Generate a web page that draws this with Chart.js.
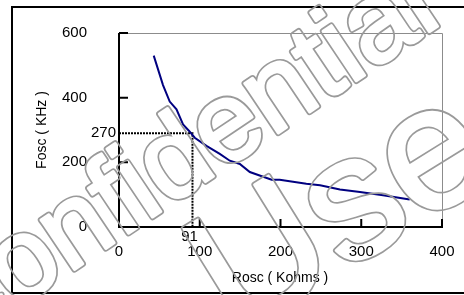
<!DOCTYPE html>
<html>
<head>
<meta charset="utf-8">
<script src="https://cdn.jsdelivr.net/npm/chart.js@4.4.1/dist/chart.umd.min.js"></script>
<style>
    html, body { margin: 0; padding: 0; background: #fff; }
    #wrap { width: 464px; height: 295px; }
</style>
</head>
<body>
<div id="wrap"><canvas id="oscChart"></canvas></div>
<script>
    const roscValues = [43, 54.5, 62.8, 71.2, 79.3, 86.8, 93.8, 108.3, 124.8, 137.2, 149.6, 162, 189, 199, 232, 249, 273.6, 298.4, 327, 360];
    const foscValues = [530, 439, 388, 364, 317, 297, 276, 251, 226, 205, 195, 170, 146, 146, 134, 129, 116, 108.5, 98.5, 85];
    const xTicks = [0, 100, 200, 300, 400];
    const yTicks = [0, 200, 400, 600];
    const markerRosc = 91;
    const markerFosc = 290;
    const markerRoscLabel = '91';
    const markerFoscLabel = '270';
    const xTitle = 'Rosc ( Kohms )';
    const yTitle = 'Fosc ( KHz )';
    const watermarkLines = ['Confidential', 'Use'];

    const FONT = '"Liberation Sans", Arial, sans-serif';

    const points = roscValues.map((x, i) => ({ x: x, y: foscValues[i] }));

    // outlined watermark text, drawn a little fatter than the glyph
    function drawOutlined(off, text, font, tx, ty, deg) {
        const expand = 1.5, band = 1.7;
        off.save();
        off.font = font;
        off.lineJoin = 'round';
        off.translate(tx, ty);
        off.rotate(deg * Math.PI / 180);
        off.fillStyle = off.strokeStyle = '#9a9a9a';
        off.lineWidth = 2 * (expand + band);
        off.fillText(text, 0, 0);
        off.strokeText(text, 0, 0);
        off.globalCompositeOperation = 'destination-out';
        off.lineWidth = 2 * expand;
        off.fillText(text, 0, 0);
        off.strokeText(text, 0, 0);
        off.restore();
    }

    const decorPlugin = {
        id: 'decor',
        beforeDraw(chart) {
            const ctx = chart.ctx;
            ctx.save();
            ctx.strokeStyle = '#000';
            ctx.lineWidth = 2;
            ctx.strokeRect(12, 7, 470, 286);
            ctx.restore();
        },
        beforeDatasetsDraw(chart) {
            const ctx = chart.ctx;
            const a = chart.chartArea;
            const x = chart.scales.x, y = chart.scales.y;
            ctx.save();
            // light frame top/right
            ctx.strokeStyle = '#8c8c8c';
            ctx.lineWidth = 1;
            ctx.beginPath();
            ctx.moveTo(a.left, a.top + 0.5);
            ctx.lineTo(a.right + 0.5, a.top + 0.5);
            ctx.lineTo(a.right + 0.5, a.bottom);
            ctx.stroke();

            // marker lines
            const mx = x.getPixelForValue(markerRosc);
            const my = y.getPixelForValue(markerFosc);
            ctx.strokeStyle = '#000';
            ctx.lineWidth = 2;
            ctx.setLineDash([2, 1]);
            ctx.beginPath();
            ctx.moveTo(a.left, my);
            ctx.lineTo(mx, my);
            ctx.lineTo(mx, a.bottom);
            ctx.stroke();
            ctx.setLineDash([]);

            // axes
            ctx.lineWidth = 2;
            ctx.beginPath();
            ctx.moveTo(a.left, a.top);
            ctx.lineTo(a.left, a.bottom);
            ctx.lineTo(a.right + 1, a.bottom);
            ctx.stroke();

            // inward ticks
            ctx.beginPath();
            yTicks.forEach(v => {
                if (v === 0) return;
                const py = y.getPixelForValue(v);
                ctx.moveTo(a.left, py);
                ctx.lineTo(a.left + 9, py);
            });
            xTicks.forEach(v => {
                if (v === 0) return;
                const px = x.getPixelForValue(v);
                ctx.moveTo(px, a.bottom);
                ctx.lineTo(px, a.bottom - 8);
            });
            ctx.stroke();

            // marker labels
            ctx.fillStyle = '#000';
            ctx.font = '15px ' + FONT;
            ctx.textAlign = 'right';
            ctx.textBaseline = 'middle';
            ctx.fillText(markerFoscLabel, a.left - 3, my);
            ctx.textAlign = 'center';
            ctx.fillText(markerRoscLabel, mx - 3, a.bottom + 10);

            // axis titles
            ctx.font = '14px ' + FONT;
            ctx.fillText(xTitle, 280, 278);
            ctx.translate(42, 130);
            ctx.rotate(-Math.PI / 2);
            ctx.fillText(yTitle, 0, 0);
            ctx.restore();
        },
        afterDraw(chart) {
            const c = document.createElement('canvas');
            c.width = chart.width;
            c.height = chart.height;
            const off = c.getContext('2d');
            off.textAlign = 'left';
            off.textBaseline = 'alphabetic';
            drawOutlined(off, watermarkLines[0], '113px ' + FONT, -52, 354, -33.8);
            drawOutlined(off, watermarkLines[1], '175px ' + FONT, 236, 338, -31.8);
            chart.ctx.drawImage(c, 0, 0, chart.width, chart.height);
        }
    };

    const ctx = document.getElementById('oscChart').getContext('2d');
    new Chart(ctx, {
        type: 'scatter',
        data: {
            datasets: [{
                label: 'Fosc',
                data: points,
                showLine: true,
                borderColor: '#000080',
                borderWidth: 2,
                pointRadius: 0,
                tension: 0
            }]
        },
        options: {
            responsive: true,
            maintainAspectRatio: false,
            animation: false,
            layout: { padding: { top: 30, right: 22, left: 0, bottom: 0 } },
            plugins: {
                legend: { display: false },
                tooltip: { enabled: false }
            },
            scales: {
                x: {
                    type: 'linear',
                    min: 0,
                    max: 400,
                    afterBuildTicks: s => { s.ticks = xTicks.map(v => ({ value: v })); },
                    afterFit: s => { s.height = 68; },
                    grid: { display: false },
                    border: { display: false },
                    ticks: {
                        color: '#000',
                        font: { family: FONT, size: 15 },
                        padding: 8,
                        maxRotation: 0
                    }
                },
                y: {
                    type: 'linear',
                    min: 0,
                    max: 600,
                    afterBuildTicks: s => { s.ticks = yTicks.map(v => ({ value: v })); },
                    afterFit: s => { s.width = 119; },
                    grid: { display: false },
                    border: { display: false },
                    ticks: {
                        color: '#000',
                        font: { family: FONT, size: 15 },
                        padding: 24
                    }
                }
            }
        },
        plugins: [decorPlugin]
    });
</script>
</body>
</html>
